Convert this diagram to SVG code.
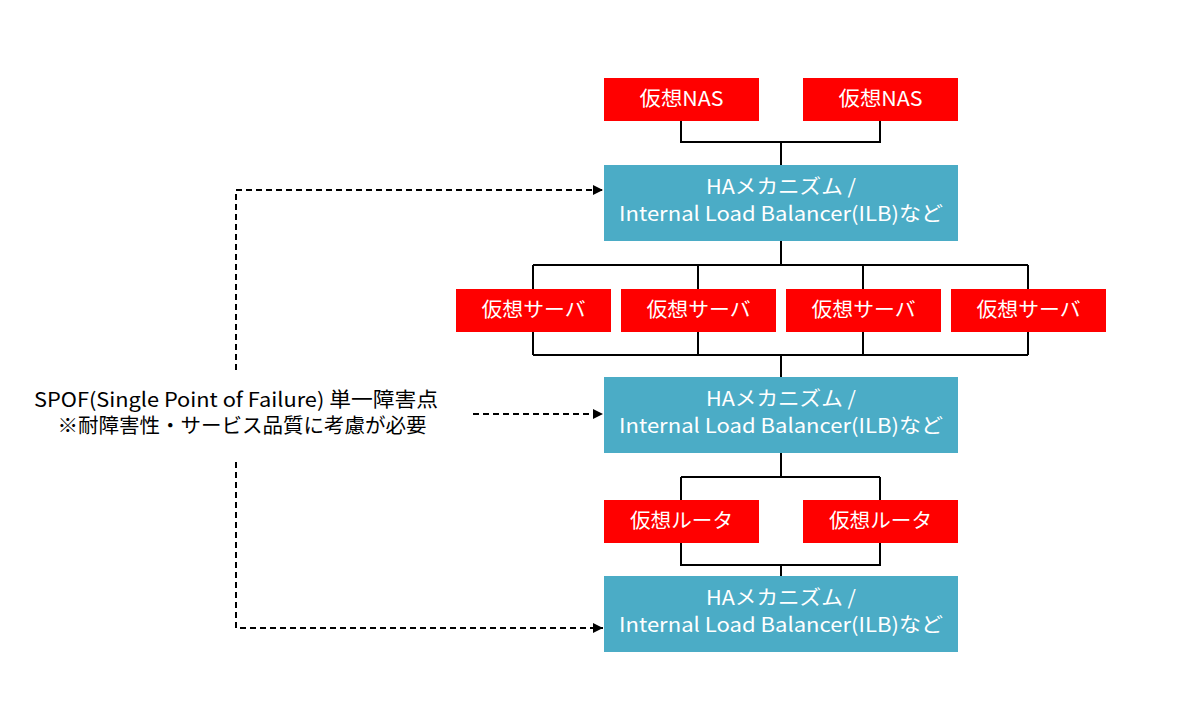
<svg xmlns="http://www.w3.org/2000/svg" width="1204" height="704" viewBox="0 0 1204 704">
<style>
.red{fill:#FF0000}
.teal{fill:#4BACC6}
.t{font-family:"Noto Sans CJK JP","Liberation Sans",sans-serif;font-size:20px;fill:#FFFFFF;text-anchor:middle}
.lbl{font-family:"Noto Sans CJK JP","Liberation Sans",sans-serif;font-size:20px;fill:#000000;text-anchor:middle}
.ln{fill:none;stroke:#000;stroke-width:2}
.dash{fill:none;stroke:#000;stroke-width:2;stroke-dasharray:6 4}
</style>
<defs>
<marker id="arr" viewBox="0 0 10 10" refX="10" refY="5" markerWidth="10" markerHeight="10" markerUnits="userSpaceOnUse" orient="auto">
<path d="M0,0 L10,5 L0,10 z" fill="#000"/>
</marker>
</defs>
<rect width="1204" height="704" fill="#FFFFFF"/>
<g id="connectors">
<path class="ln" d="M681,121 V142 H880 V121 M781,142 V165"/>
<path class="ln" d="M781,241 V265 M533,265 H1028 M533,265 V289 M698,265 V289 M863,265 V289 M1028,265 V289"/>
<path class="ln" d="M533,332 V355 M698,332 V355 M863,332 V355 M1028,332 V355 M533,355 H1028 M781,355 V377"/>
<path class="ln" d="M781,453 V477 M681,477 H880 M681,477 V500 M880,477 V500"/>
<path class="ln" d="M681,543 V565 H880 V543 M781,565 V576"/>
<path class="dash" d="M236,370 V190 H603" marker-end="url(#arr)"/>
<path class="dash" d="M473,414 H603" marker-end="url(#arr)"/>
<path class="dash" d="M236,462 V628 H603" marker-end="url(#arr)"/>
</g>
<g id="nas1"><rect class="red" x="604" y="78" width="155" height="43"/><text class="t" x="681.5" y="106" textLength="84" lengthAdjust="spacingAndGlyphs">仮想NAS</text></g>
<g id="nas2"><rect class="red" x="803" y="78" width="155" height="43"/><text class="t" x="880.5" y="106" textLength="84" lengthAdjust="spacingAndGlyphs">仮想NAS</text></g>
<g id="ha1"><rect class="teal" x="604" y="165" width="354" height="76"/><text class="t" x="781" y="194" textLength="150" lengthAdjust="spacingAndGlyphs">HAメカニズム /</text><text class="t" x="781" y="221" textLength="324" lengthAdjust="spacingAndGlyphs">Internal Load Balancer(ILB)など</text></g>
<g id="sv1"><rect class="red" x="456" y="289" width="155" height="43"/><text class="t" x="533.5" y="317" textLength="104" lengthAdjust="spacingAndGlyphs">仮想サーバ</text></g>
<g id="sv2"><rect class="red" x="621" y="289" width="155" height="43"/><text class="t" x="698.5" y="317" textLength="104" lengthAdjust="spacingAndGlyphs">仮想サーバ</text></g>
<g id="sv3"><rect class="red" x="786" y="289" width="155" height="43"/><text class="t" x="863.5" y="317" textLength="104" lengthAdjust="spacingAndGlyphs">仮想サーバ</text></g>
<g id="sv4"><rect class="red" x="951" y="289" width="155" height="43"/><text class="t" x="1028.5" y="317" textLength="104" lengthAdjust="spacingAndGlyphs">仮想サーバ</text></g>
<g id="ha2"><rect class="teal" x="604" y="377" width="354" height="76"/><text class="t" x="781" y="406" textLength="150" lengthAdjust="spacingAndGlyphs">HAメカニズム /</text><text class="t" x="781" y="433" textLength="324" lengthAdjust="spacingAndGlyphs">Internal Load Balancer(ILB)など</text></g>
<g id="rt1"><rect class="red" x="604" y="500" width="155" height="43"/><text class="t" x="681.5" y="528" textLength="103" lengthAdjust="spacingAndGlyphs">仮想ルータ</text></g>
<g id="rt2"><rect class="red" x="803" y="500" width="155" height="43"/><text class="t" x="880.5" y="528" textLength="103" lengthAdjust="spacingAndGlyphs">仮想ルータ</text></g>
<g id="ha3"><rect class="teal" x="604" y="576" width="354" height="76"/><text class="t" x="781" y="605" textLength="150" lengthAdjust="spacingAndGlyphs">HAメカニズム /</text><text class="t" x="781" y="632" textLength="324" lengthAdjust="spacingAndGlyphs">Internal Load Balancer(ILB)など</text></g>
<g id="spof"><text class="lbl" x="236" y="407" textLength="404" lengthAdjust="spacingAndGlyphs">SPOF(Single Point of Failure) 単一障害点</text><text class="lbl" x="242" y="433" textLength="369" lengthAdjust="spacingAndGlyphs">※耐障害性・サービス品質に考慮が必要</text></g>
</svg>
